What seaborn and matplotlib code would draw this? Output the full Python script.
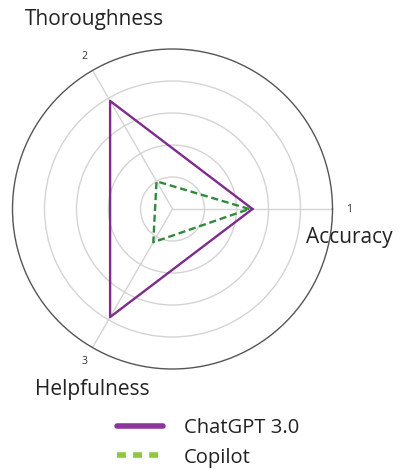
import numpy as np
import pandas as pd
import matplotlib
matplotlib.use("Agg")
import matplotlib.pyplot as plt
from matplotlib.lines import Line2D
import seaborn as sns

# data
axis_ticks = ["1", "2", "3"]
axis_names = ["Accuracy", "Thoroughness", "Helpfulness"]
chatgpt_vals = [2.5, 3.9, 3.9]
copilot_vals = [2.4, 1.0, 1.2]
series_names = ["ChatGPT 3.0", "Copilot"]
ring_levels = [1, 2, 3, 4, 5]

sns.set_theme(style="white")
plt.rcParams['font.family'] = ['Open Sans', 'DejaVu Sans']

fig = plt.figure(figsize=(4.02, 4.72), dpi=100)
R = 160
cx, cy = 172.5, 472 - 209
ax = fig.add_axes([(cx - R) / 402, (cy - R) / 472, 2 * R / 402, 2 * R / 472], projection="polar")

n = len(axis_ticks)
angles = np.arange(n) * 2 * np.pi / n

def closed(vals):
    return pd.DataFrame({"theta": list(angles) + [angles[0]], "r": list(vals) + [vals[0]]})

sns.lineplot(data=closed(chatgpt_vals), x="theta", y="r", ax=ax, sort=False,
             color="#7e2b8e", linewidth=1.7, estimator=None)
sns.lineplot(data=closed(copilot_vals), x="theta", y="r", ax=ax, sort=False,
             color="#2f8a3c", linewidth=1.7, linestyle=(0, (3.0, 1.6)), estimator=None)

ax.set_ylim(0, ring_levels[-1])
ax.set_yticks(ring_levels[:-1])
ax.set_yticklabels([])
ax.set_xticks(angles)
ax.set_xticklabels(axis_ticks, fontsize=7.5, color="#333333")
ax.tick_params(axis="x", pad=-1)
ax.set_xlabel("")
ax.set_ylabel("")
ax.grid(True, color="#d4d4d4", linewidth=1.0)
ax.spines["polar"].set_color("#555555")
ax.spines["polar"].set_linewidth(1.0)

# axis name labels
fig.text(25 / 402, 1 - 20 / 472, axis_names[1], fontsize=15, color="#222222", va="center", ha="left")
fig.text(306 / 402, 1 - 238 / 472, axis_names[0], fontsize=15, color="#222222", va="center", ha="left")
fig.text(35 / 402, 1 - 389 / 472, axis_names[2], fontsize=15, color="#222222", va="center", ha="left")

handles = [Line2D([], [], color="#8b349b", linewidth=4),
           Line2D([], [], color="#8dc63f", linewidth=4, linestyle=(0, (1.6, 1.3)))]
fig.legend(handles, series_names, loc="center left", bbox_to_anchor=(99 / 402, 1 - 443 / 472),
           frameon=False, fontsize=14.5, handlelength=2.3, handletextpad=1.0, labelspacing=0.45,
           labelcolor="#222222")

fig.savefig("out.png", dpi=100, facecolor="white")
